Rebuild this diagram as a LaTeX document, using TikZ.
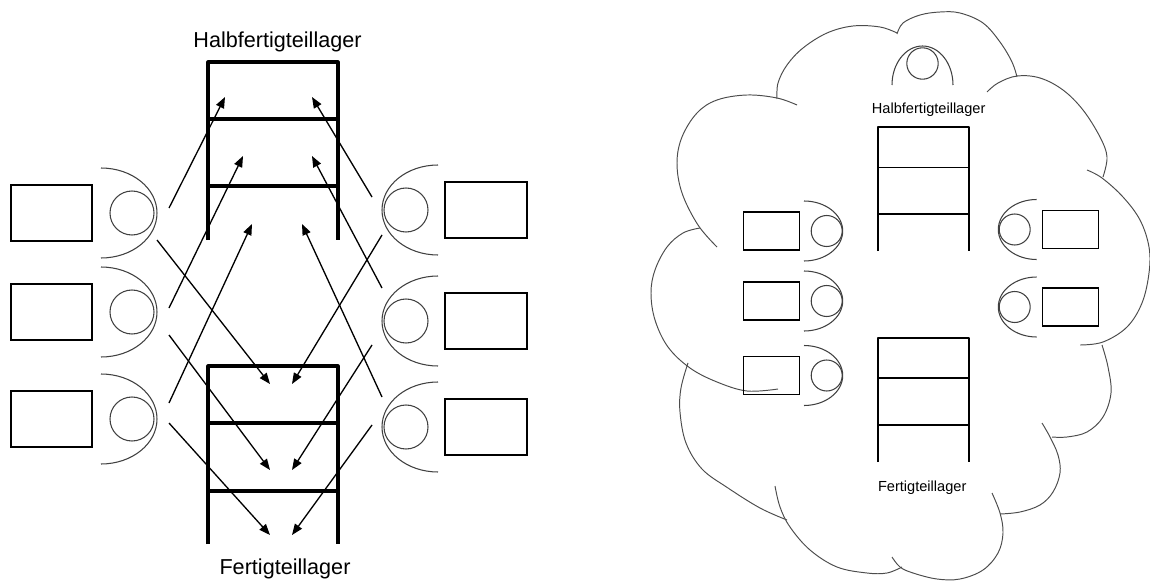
\documentclass[tikz,border=0pt]{standalone}
\usepackage{fontspec}
\setmainfont{Liberation Sans}
\usetikzlibrary{arrows.meta}

\begin{document}
\begin{tikzpicture}[x=0.2mm, y=-0.2mm, >={Triangle[length=2.2mm, width=1.7mm]},
        lager/.style={line width=1.8pt, line join=round},
        lagerklein/.style={line width=1.1pt, line join=round},
        platz/.style={line width=0.9pt},
        platzklein/.style={line width=0.6pt},
        rund/.style={line width=0.6pt, black!75},
        pfeil/.style={->, line width=0.75pt},
        wolke/.style={line width=0.55pt, black!70},
        titel/.style={anchor=base, font=\fontsize{12.3}{14}\selectfont},
        titelklein/.style={anchor=base, font=\fontsize{8.3}{10}\selectfont}]
        \useasboundingbox (0,0) rectangle (1150,581);

        % -- Panneau gauche : postes de travail et deux magasins --
        % Magasin du haut
        \draw[lager] (208,240) -- (208,62) -- (338,62) -- (338,240);
        \draw[lager] (208,119) -- (338,119);
        \draw[lager] (208,186) -- (338,186);
        % Magasin du bas
        \draw[lager] (208,544) -- (208,366) -- (338,366) -- (338,544);
        \draw[lager] (208,423) -- (338,423);
        \draw[lager] (208,491) -- (338,491);

        \node[titel] (hlL) at (277.5,47.7) {Halbfertigteillager};
        \node[titel] (flL) at (285,574) {Fertigteillager};

        % Postes de travail à gauche
        \foreach \y in {213,312,419} {
            \draw[platz] (11,\y-28) rectangle (92,\y+28);
            \draw[rund] (132,\y) circle[radius=22];
            \draw[rund] (101,\y-45) arc[start angle=-90, end angle=90, x radius=56, y radius=45];
        }
        % Postes de travail à droite
        \foreach \y in {210,321,427} {
            \draw[platz] (445,\y-28) rectangle (527,\y+28);
            \draw[rund] (406,\y) circle[radius=22];
            \draw[rund] (438,\y-45) arc[start angle=-90, end angle=-270, x radius=56, y radius=45];
        }

        % Départs des flèches (postes)
        \coordinate (la1) at (169,208);
        \coordinate (lb1) at (157,240);
        \coordinate (la2) at (169,308);
        \coordinate (lb2) at (169,335);
        \coordinate (la3) at (169,403);
        \coordinate (lb3) at (169,423);
        \coordinate (ra1) at (372,197);
        \coordinate (rb1) at (382,235);
        \coordinate (ra2) at (382,288);
        \coordinate (rb2) at (372,345);
        \coordinate (ra3) at (382,397);
        \coordinate (rb3) at (372,425);
        % Arrivées (cases des magasins)
        \coordinate (hu1) at (225,97);
        \coordinate (hv1) at (312,97);
        \coordinate (hu2) at (243,156);
        \coordinate (hv2) at (312,156);
        \coordinate (hu3) at (252,224);
        \coordinate (hv3) at (302,224);
        \coordinate (fu1) at (270,384);
        \coordinate (fv1) at (292,384);
        \coordinate (fu2) at (270,470);
        \coordinate (fv2) at (292,470);
        \coordinate (fu3) at (270,535);
        \coordinate (fv3) at (292,535);

        \foreach \a/\b in {la1/hu1, la2/hu2, la3/hu3, lb1/fu1, lb2/fu2, lb3/fu3,
                           ra1/hv1, ra2/hv2, ra3/hv3, rb1/fv1, rb2/fv2, rb3/fv3}
            \draw[pfeil] (\a) -- (\b);

        % -- Panneau droit : nuage --
        \draw[wolke] plot[smooth, tension=0.6] coordinates {(777,99) (778,83) (787,65) (803,48) (827,33) (853,26) (880,27) (897,33)};
        \draw[wolke] plot[smooth, tension=0.6] coordinates {(897,34) (903,23) (920,15) (940,12) (960,13) (983,23) (1000,42) (1012,62) (1017,77)};
        \draw[wolke] plot[smooth, tension=0.6] coordinates {(987,92) (998,83) (1017,76) (1040,78) (1063,90) (1083,110) (1100,137) (1107,157) (1103,177)};
        \draw[wolke] plot[smooth, tension=0.6] coordinates {(1087,170) (1102,178) (1123,197) (1140,220) (1149,247) (1149,273) (1142,303) (1127,327) (1103,342) (1080,345)};
        \draw[wolke] plot[smooth, tension=0.6] coordinates {(1102,345) (1108,367) (1111,393) (1103,417) (1087,432) (1067,437) (1052,437)};
        \draw[wolke] plot[smooth, tension=0.6] coordinates {(1042,423) (1050,437) (1058,455) (1060,473) (1053,492) (1040,505) (1020,512) (1000,514)};
        \draw[wolke] plot[smooth, tension=0.6] coordinates {(992,493) (1000,513) (1003,533) (998,553) (983,570) (960,579) (937,579) (913,573) (900,567) (892,557)};
        \draw[wolke] plot[smooth, tension=0.6] coordinates {(775,486) (780,507) (790,527) (810,550) (837,567) (867,573) (887,573) (902,567)};
        \draw[wolke] plot[smooth, tension=0.6] coordinates {(688,363) (681,388) (680,412) (686,443) (702,469) (728,488) (760,508) (787,520)};
        \draw[wolke] plot[smooth, tension=0.6] coordinates {(700,228) (683,233) (667,247) (655,270) (651,293) (655,320) (668,347) (690,368) (717,382) (747,391) (778,389)};
        \draw[wolke] plot[smooth, tension=0.6] coordinates {(797,105) (777,98) (747,95) (717,100) (697,113) (682,137) (677,163) (682,193) (698,225) (717,247)};

        % Magasins
        \draw[lagerklein] (878,251) -- (878,127) -- (969,127) -- (969,251);
        \draw[lagerklein] (878,167.5) -- (969,167.5);
        \draw[lagerklein] (878,214) -- (969,214);
        \draw[lagerklein] (878,462) -- (878,338) -- (969,338) -- (969,462);
        \draw[lagerklein] (878,378) -- (969,378);
        \draw[lagerklein] (878,425) -- (969,425);

        \node[titelklein] (hlR) at (928.7,114) {Halbfertigteillager};
        \node[titelklein] (flR) at (922.2,491) {Fertigteillager};

        % Poste du haut
        \draw[rund] (922.5,63.5) circle[radius=15.7];
        \draw[rund] (892,85) arc[start angle=180, end angle=360, x radius=30.5, y radius=39];
        % Postes à gauche
        \foreach \y in {231,301,375.5} {
            \draw[platzklein] (743.3,\y-19) rectangle (799.3,\y+19);
            \draw[rund] (826.7,\y) circle[radius=15.5];
            \draw[rund] (804,\y-30) arc[start angle=-90, end angle=90, x radius=38.7, y radius=30];
        }
        % Postes à droite
        \foreach \y in {229.5,307} {
            \draw[platzklein] (1042.3,\y-19) rectangle (1098.3,\y+19);
            \draw[rund] (1014.7,\y) circle[radius=15.5];
            \draw[rund] (1036.7,\y-30) arc[start angle=-90, end angle=-270, x radius=38.4, y radius=30];
        }
    \end{tikzpicture}
\end{document}
